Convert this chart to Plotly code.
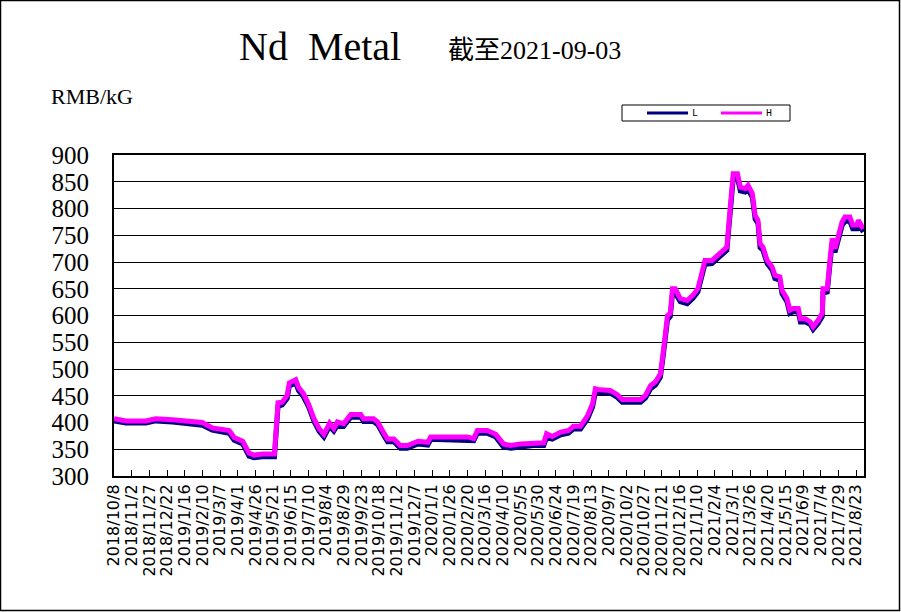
import pandas as pd
import plotly.graph_objects as go

DATES = [
    "2018-10-08", "2018-10-25", "2018-11-22", "2018-12-06", "2018-12-30",
    "2019-01-18", "2019-01-27", "2019-02-10", "2019-02-24", "2019-03-11",
    "2019-03-20", "2019-03-27", "2019-04-08", "2019-04-17", "2019-04-24",
    "2019-05-06", "2019-05-23", "2019-05-28", "2019-06-03", "2019-06-10",
    "2019-06-13", "2019-06-22", "2019-06-26", "2019-07-03", "2019-07-10",
    "2019-07-18", "2019-07-25", "2019-08-01", "2019-08-09", "2019-08-15",
    "2019-08-20", "2019-08-29", "2019-09-04", "2019-09-08", "2019-09-22",
    "2019-09-26", "2019-10-10", "2019-10-16", "2019-10-24", "2019-10-30",
    "2019-11-08", "2019-11-17", "2019-11-27", "2019-12-12", "2019-12-26",
    "2019-12-30", "2020-01-09", "2020-02-20", "2020-02-29", "2020-03-05",
    "2020-03-19", "2020-03-31", "2020-04-11", "2020-04-21", "2020-05-05",
    "2020-05-23", "2020-06-07", "2020-06-11", "2020-06-19", "2020-07-01",
    "2020-07-12", "2020-07-19", "2020-07-29", "2020-08-08", "2020-08-15",
    "2020-08-19", "2020-08-26", "2020-09-09", "2020-09-19", "2020-09-26",
    "2020-10-12", "2020-10-22", "2020-10-29", "2020-11-05", "2020-11-12",
    "2020-11-19", "2020-11-23", "2020-11-29", "2020-12-03", "2020-12-06",
    "2020-12-10", "2020-12-17", "2020-12-27", "2021-01-04", "2021-01-11",
    "2021-01-17", "2021-01-21", "2021-01-31", "2021-02-11", "2021-02-21",
    "2021-02-26", "2021-03-02", "2021-03-08", "2021-03-12", "2021-03-19",
    "2021-03-23", "2021-03-29", "2021-04-02", "2021-04-06", "2021-04-09",
    "2021-04-13", "2021-04-19", "2021-04-26", "2021-04-30", "2021-05-07",
    "2021-05-10", "2021-05-17", "2021-05-21", "2021-05-26", "2021-06-02",
    "2021-06-05", "2021-06-12", "2021-06-19", "2021-06-23", "2021-06-30",
    "2021-07-06", "2021-07-07", "2021-07-13", "2021-07-17", "2021-07-20",
    "2021-07-24", "2021-07-28", "2021-08-03", "2021-08-07", "2021-08-14",
    "2021-08-18", "2021-08-24", "2021-08-26", "2021-09-02",
]

H_VALUES = [
    407, 403, 403, 407, 405,
    402, 400, 400, 390, 388,
    385, 372, 365, 343, 339,
    341, 341, 437, 438, 451,
    474, 480, 466, 454, 435,
    407, 389, 378, 399, 389,
    401, 398, 409, 415, 415,
    407, 407, 401, 382, 369,
    369, 357, 357, 365, 363,
    373, 373, 373, 370, 385,
    385, 378, 360, 357, 360,
    362, 362, 379, 374, 382,
    385, 393, 393, 413, 435,
    463, 461, 460, 452, 443,
    443, 443, 451, 469, 476,
    491, 532, 600, 604, 650,
    650, 632, 628, 638, 650,
    681, 703, 703, 716, 728,
    806, 865, 865, 840, 837,
    843, 828, 787, 778, 734,
    728, 703, 691, 675, 672,
    647, 632, 610, 613, 613,
    594, 594, 588, 579, 591,
    604, 650, 650, 706, 744,
    725, 744, 775, 784, 784,
    769, 769, 778, 762,
]

L_VALUES = [
    403, 399, 399, 403, 401,
    398, 396, 395, 386, 383,
    380, 367, 360, 337, 334,
    336, 336, 430, 433, 445,
    468, 474, 460, 448, 430,
    402, 384, 373, 393, 384,
    395, 393, 404, 410, 410,
    402, 402, 396, 377, 364,
    364, 352, 352, 360, 358,
    368, 368, 368, 366, 380,
    380, 373, 354, 352, 355,
    357, 357, 372, 369, 377,
    380, 388, 388, 407, 429,
    456, 456, 455, 447, 438,
    438, 438, 446, 463, 470,
    485, 525, 592, 598, 640,
    642, 626, 622, 632, 644,
    675, 696, 697, 710, 722,
    796, 855, 857, 833, 831,
    836, 821, 780, 772, 727,
    722, 697, 685, 669, 666,
    641, 626, 604, 607, 607,
    588, 588, 583, 574, 585,
    598, 642, 644, 698, 735,
    718, 737, 768, 776, 776,
    762, 762, 771, 756,
]

TICK_LABELS = [
    "2018/10/8", "2018/11/2", "2018/11/27", "2018/12/22", "2019/1/16",
    "2019/2/10", "2019/3/7", "2019/4/1", "2019/4/26", "2019/5/21",
    "2019/6/15", "2019/7/10", "2019/8/4", "2019/8/29", "2019/9/23",
    "2019/10/18", "2019/11/12", "2019/12/7", "2020/1/1", "2020/1/26",
    "2020/2/20", "2020/3/16", "2020/4/10", "2020/5/5", "2020/5/30",
    "2020/6/24", "2020/7/19", "2020/8/13", "2020/9/7", "2020/10/2",
    "2020/10/27", "2020/11/21", "2020/12/16", "2021/1/10", "2021/2/4",
    "2021/3/1", "2021/3/26", "2021/4/20", "2021/5/15", "2021/6/9",
    "2021/7/4", "2021/7/29", "2021/8/23",
]

SERIES_NAMES = ["L", "H"]
SERIES_COLORS = ["#000080", "#FF00FF"]

X_RANGE = ["2018-10-08", "2021-09-03"]
Y_RANGE = [300, 900]

tickvals = pd.to_datetime(TICK_LABELS, format="%Y/%m/%d")

fig = go.Figure()
for name, color, vals in zip(SERIES_NAMES, SERIES_COLORS, [L_VALUES, H_VALUES]):
    fig.add_trace(go.Scatter(x=DATES, y=vals, name=name, mode="lines",
                             line=dict(color=color, width=5), showlegend=False))

# plot area: x 114..864, y 155..476
L_M, R_M, T_M, B_M = 114, 37, 155, 136
PW, PH = 901 - L_M - R_M, 612 - T_M - B_M


def px(x):
    return (x - L_M) / PW


def py(y):
    return (612 - B_M - y) / PH


shapes = [
    # outer frame
    dict(type="rect", xref="paper", yref="paper", x0=px(0.5), x1=px(899.5),
         y0=py(610.5), y1=py(0.5), line=dict(color="black", width=1.5),
         fillcolor="rgba(0,0,0,0)", layer="below"),
    # legend box
    dict(type="rect", xref="paper", yref="paper", x0=px(622), x1=px(790),
         y0=py(121), y1=py(105), line=dict(color="black", width=1),
         fillcolor="white"),
]
annotations = [
    dict(text="Nd\u00a0\u00a0Metal", xref="paper", yref="paper", x=px(237), y=py(46),
         xanchor="left", yanchor="middle", showarrow=False,
         font=dict(family="Liberation Serif", size=40, color="black")),
    dict(text="截至2021-09-03", xref="paper", yref="paper", x=px(446), y=py(51),
         xanchor="left", yanchor="middle", showarrow=False,
         font=dict(family="Liberation Serif, Noto Sans CJK JP", size=26, color="black")),
    dict(text="RMB/kG", xref="paper", yref="paper", x=px(49), y=py(96),
         xanchor="left", yanchor="middle", showarrow=False,
         font=dict(family="Liberation Serif", size=22, color="black")),
]
legend_x = [647, 721]
for i, (name, color) in enumerate(zip(SERIES_NAMES, SERIES_COLORS)):
    x0 = legend_x[i]
    shapes.append(dict(type="line", xref="paper", yref="paper", x0=px(x0), x1=px(x0 + 41),
                       y0=py(113), y1=py(113), line=dict(color=color, width=3)))
    annotations.append(dict(text=name, xref="paper", yref="paper", x=px(x0 + 43), y=py(113),
                            xanchor="left", yanchor="middle", showarrow=False,
                            font=dict(family="Liberation Mono", size=10, color="black")))

fig.update_layout(
    width=901, height=612,
    margin=dict(l=L_M, r=R_M, t=T_M, b=B_M),
    paper_bgcolor="white", plot_bgcolor="white",
    showlegend=False,
    xaxis=dict(type="date", range=X_RANGE, tickmode="array", tickvals=tickvals,
               ticktext=TICK_LABELS, tickangle=-90, ticks="inside", ticklen=6,
               tickwidth=1, tickcolor="black", showgrid=False, zeroline=False,
               showline=True, linecolor="black", linewidth=2, mirror=True,
               tickfont=dict(family="DejaVu Sans", size=16, color="black")),
    yaxis=dict(range=Y_RANGE, tick0=300, dtick=50, showgrid=True, gridcolor="black",
               gridwidth=1, zeroline=False, showline=True, linecolor="black",
               linewidth=2, mirror=True, ticks="", ticklabelstandoff=18,
               tickfont=dict(family="Liberation Serif", size=25, color="black")),
    annotations=annotations,
    shapes=shapes,
)

fig.write_html("out.html", config={"displayModeBar": False},
               post_script="document.body.style.margin='0';")
